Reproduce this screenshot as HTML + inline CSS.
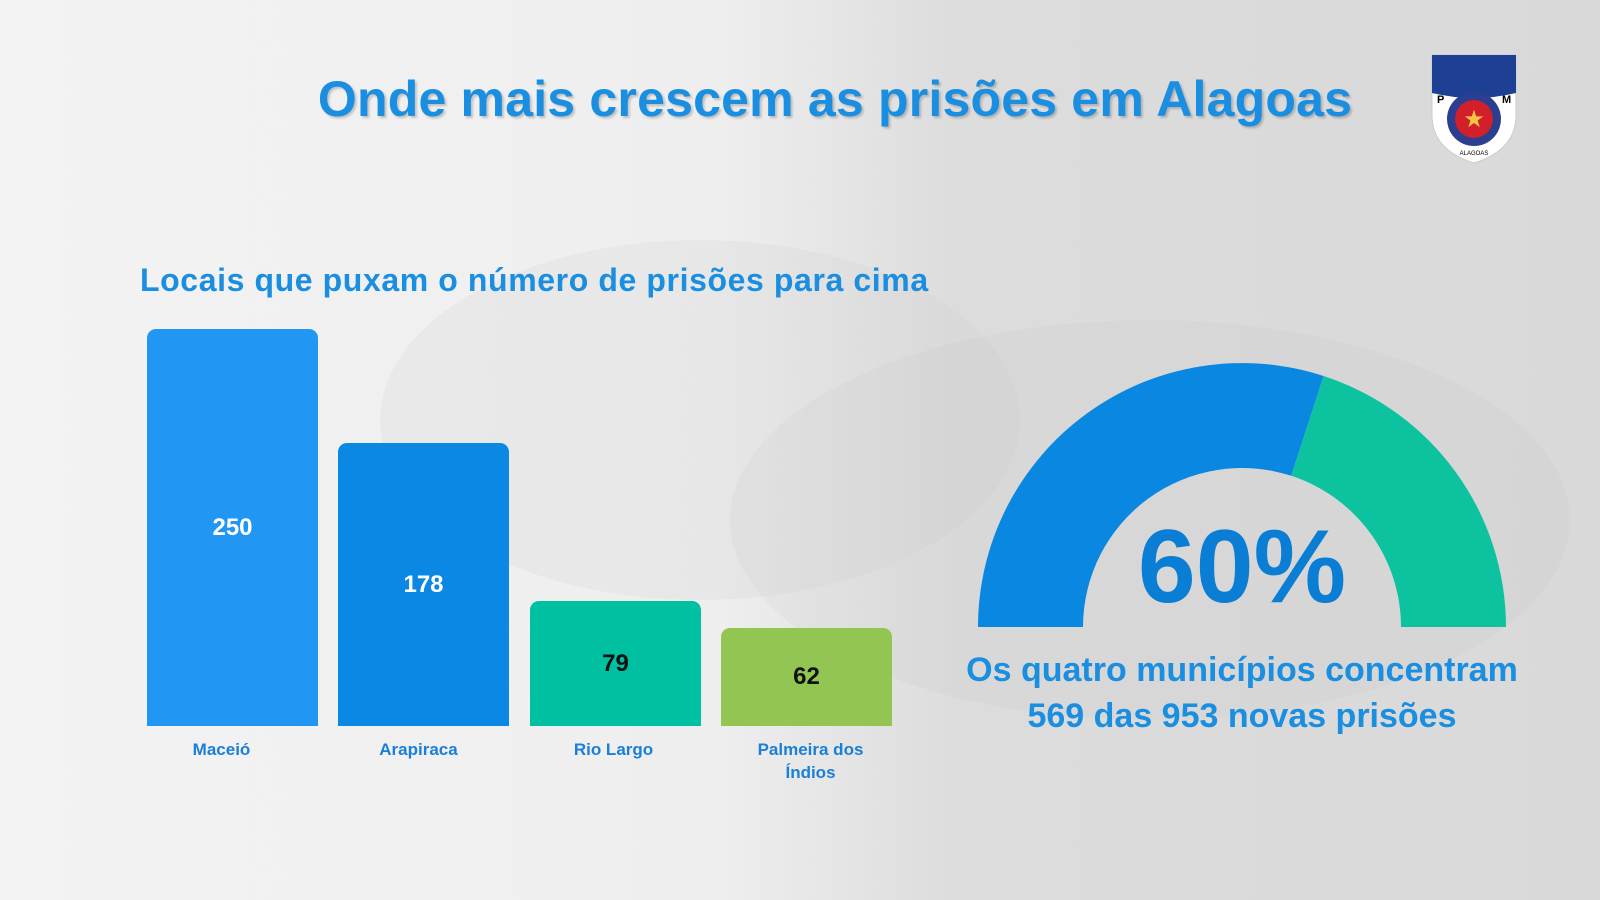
<!DOCTYPE html>
<html><head><meta charset="utf-8"><style>
body{margin:0;width:1600px;height:900px;overflow:hidden;font-family:"Liberation Sans",sans-serif;
background:linear-gradient(90deg,#f3f3f3 0%,#eeeeee 45%,#dcdcdc 60%,#d9d9d9 100%);position:relative}
.t{position:absolute;font-weight:bold}
.bar{position:absolute;border-radius:9px 9px 0 0;color:#fff;font-weight:bold;font-size:24px;display:flex;align-items:center;justify-content:center}
.lab{position:absolute;width:171px;text-align:center;color:#1a7fd6;font-weight:bold;font-size:17px;line-height:23px}
</style></head><body>
<svg style="position:absolute;left:0;top:0" width="1600" height="900">
<ellipse cx="700" cy="420" rx="320" ry="180" fill="#cfcfcf" opacity="0.2"/>
<ellipse cx="1150" cy="520" rx="420" ry="200" fill="#c4c4c4" opacity="0.15"/>
<path d="M978 627 A264 264 0 0 1 1323.6 376 L1291.2 475.8 A159 159 0 0 0 1083 627 Z" fill="#0a87e0"/>
<path d="M1323.6 376 A264 264 0 0 1 1506 627 L1401 627 A159 159 0 0 0 1291.2 475.8 Z" fill="#0dc29f"/>
<g transform="translate(1432,55)">
<path d="M0 0 H84 V60 Q84 95 42 108 Q0 95 0 60 Z" fill="#fff" stroke="#ccc"/>
<path d="M0 0 H84 V38 Q42 48 0 38 Z" fill="#1d3f94"/>
<circle cx="42" cy="64" r="27" fill="#2a3f8f"/><circle cx="42" cy="64" r="19" fill="#d21f2a"/>
<text x="42" y="72" font-size="24" fill="#f4c542" text-anchor="middle">★</text>
<text x="5" y="48" font-size="11" font-weight="bold">P</text><text x="70" y="48" font-size="11" font-weight="bold">M</text>
<text x="42" y="100" font-size="6" text-anchor="middle">ALAGOAS</text>
</g>
</svg>
<div class="t" style="left:0;width:1670px;text-align:center;top:70px;font-size:50px;letter-spacing:0.2px;color:#1a8ee0;text-shadow:2px 2px 2px rgba(0,0,0,0.2)">Onde mais crescem as prisões em Alagoas</div>
<div class="t" style="left:140px;top:262px;font-size:32px;letter-spacing:0.6px;color:#1a8ee0">Locais que puxam o número de prisões para cima</div>
<div class="bar" style="left:147px;width:171px;top:329px;height:397px;background:#2196f3">250</div>
<div class="bar" style="left:338px;width:171px;top:443px;height:283px;background:#0a88e3">178</div>
<div class="bar" style="left:530px;width:171px;top:601px;height:125px;background:#00c0a2;color:#111">79</div>
<div class="bar" style="left:721px;width:171px;top:628px;height:98px;background:#92c552;color:#111">62</div>
<div class="lab" style="left:136px;top:738px">Maceió</div>
<div class="lab" style="left:333px;top:738px">Arapiraca</div>
<div class="lab" style="left:528px;top:738px">Rio Largo</div>
<div class="lab" style="left:725px;top:738px">Palmeira dos<br>Índios</div>
<div class="t" style="left:1042px;width:400px;text-align:center;top:508px;font-size:104px;color:#0a7dd4">60%</div>
<div class="t" style="left:942px;width:600px;text-align:center;top:647px;font-size:34px;line-height:46px;color:#1a8ee0">Os quatro municípios concentram<br>569 das 953 novas prisões</div>
</body></html>
